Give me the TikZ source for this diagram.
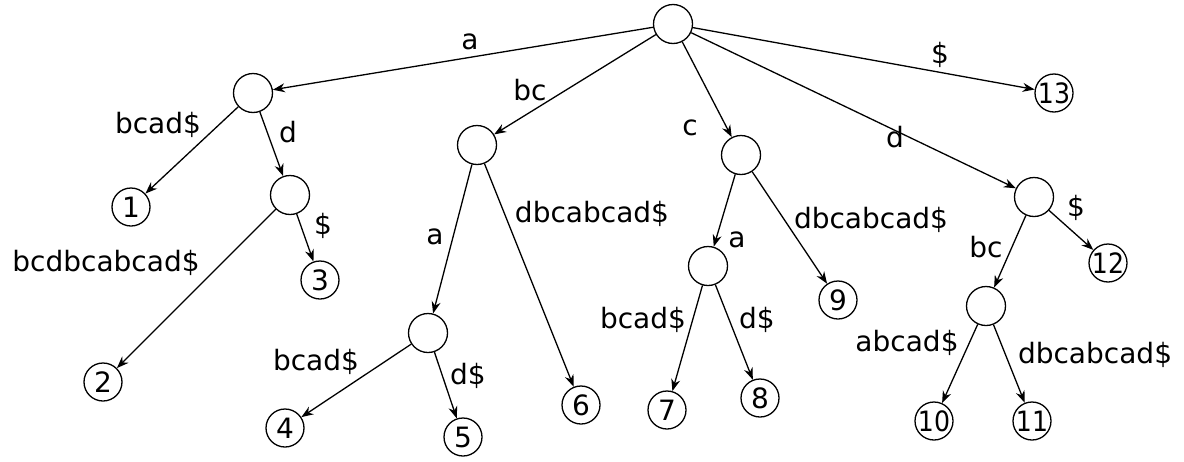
\documentclass[tikz,border=0pt]{standalone}
\usepackage{fontspec}
\setmainfont{DejaVu Sans}
\usetikzlibrary{arrows.meta}
\begin{document}
\begin{tikzpicture}[x=1pt,y=-1pt,
  inode/.style={circle,draw,line width=1.3pt,minimum size=39pt,inner sep=0pt},
  leaf/.style={circle,draw,line width=1.3pt,minimum size=38pt,inner sep=0pt,font=\fontsize{28}{28}\selectfont},
  edge/.style={line width=1.3pt,-{Stealth[length=12pt,width=9pt]}},
  lbl/.style={font=\fontsize{28}{32}\selectfont,inner sep=0pt}]
\useasboundingbox (0,0) rectangle (1184,461);
% internal nodes
\node[inode] (r) at (673,24) {};
\node[inode] (A) at (253,93) {};
\node[inode] (B) at (477,145) {};
\node[inode] (C) at (741,155) {};
\node[inode] (D) at (1034,197) {};
\node[inode] (Ad) at (290,195) {};
\node[inode] (Ba) at (428,333) {};
\node[inode] (Ca) at (708,266) {};
\node[inode] (Db) at (986,306) {};
% leaves
\node[leaf] (l13) at (1054,93) {\makebox[0pt]{\scalebox{0.9}[1]{13}}};
\node[leaf] (l1) at (131,207) {\makebox[0pt]{1}};
\node[leaf] (l3) at (320,280) {\makebox[0pt]{3}};
\node[leaf] (l2) at (103,382) {\makebox[0pt]{2}};
\node[leaf] (l4) at (285,428) {\makebox[0pt]{4}};
\node[leaf] (l5) at (463,437) {\makebox[0pt]{5}};
\node[leaf] (l6) at (581,405) {\makebox[0pt]{6}};
\node[leaf] (l7) at (667,410) {\makebox[0pt]{7}};
\node[leaf] (l8) at (760,398) {\makebox[0pt]{8}};
\node[leaf] (l9) at (838,300) {\makebox[0pt]{9}};
\node[leaf] (l10) at (934,421) {\makebox[0pt]{\scalebox{0.9}[1]{10}}};
\node[leaf] (l11) at (1032,421) {\makebox[0pt]{\scalebox{0.9}[1]{11}}};
\node[leaf] (l12) at (1108,263) {\makebox[0pt]{\scalebox{0.9}[1]{12}}};
% edges
\draw[edge] (r) -- (A);
\draw[edge] (r) -- (B);
\draw[edge] (r) -- (C);
\draw[edge] (r) -- (D);
\draw[edge] (r) -- (l13);
\draw[edge] (A) -- (l1);
\draw[edge] (A) -- (Ad);
\draw[edge] (Ad) -- (l2);
\draw[edge] (Ad) -- (l3);
\draw[edge] (B) -- (Ba);
\draw[edge] (B) -- (l6);
\draw[edge] (Ba) -- (l4);
\draw[edge] (Ba) -- (l5);
\draw[edge] (C) -- (Ca);
\draw[edge] (C) -- (l9);
\draw[edge] (Ca) -- (l7);
\draw[edge] (Ca) -- (l8);
\draw[edge] (D) -- (Db);
\draw[edge] (D) -- (l12);
\draw[edge] (Db) -- (l10);
\draw[edge] (Db) -- (l11);
% labels
\node[lbl] (t1) at (470,42) {a};
\node[lbl] (t2) at (530,90) {bc};
\node[lbl] (t3) at (690,128) {c};
\node[lbl] (t4) at (895,137) {d};
\node[lbl] (t5) at (940,55) {\$};
\node[lbl] (t6) at (158,125) {bcad\$};
\node[lbl] (t7) at (288,132) {d};
\node[lbl] (t8) at (323,226) {\$};
\node[lbl] (t9) at (106,263) {bcdbcabcad\$};
\node[lbl] (t10) at (435,237) {a};
\node[lbl] (t11) at (592,214) {dbcabcad\$};
\node[lbl] (t12) at (737,240) {a};
\node[lbl] (t13) at (871,220) {dbcabcad\$};
\node[lbl] (t14) at (643,320) {bcad\$};
\node[lbl] (t15) at (757,320) {d\$};
\node[lbl] (t16) at (316,362) {bcad\$};
\node[lbl] (t17) at (468,376) {d\$};
\node[lbl] (t18) at (986,247) {bc};
\node[lbl] (t19) at (1076,208) {\$};
\node[lbl] (t20) at (907,343) {abcad\$};
\node[lbl] (t21) at (1095,355) {dbcabcad\$};
\end{tikzpicture}
\end{document}
